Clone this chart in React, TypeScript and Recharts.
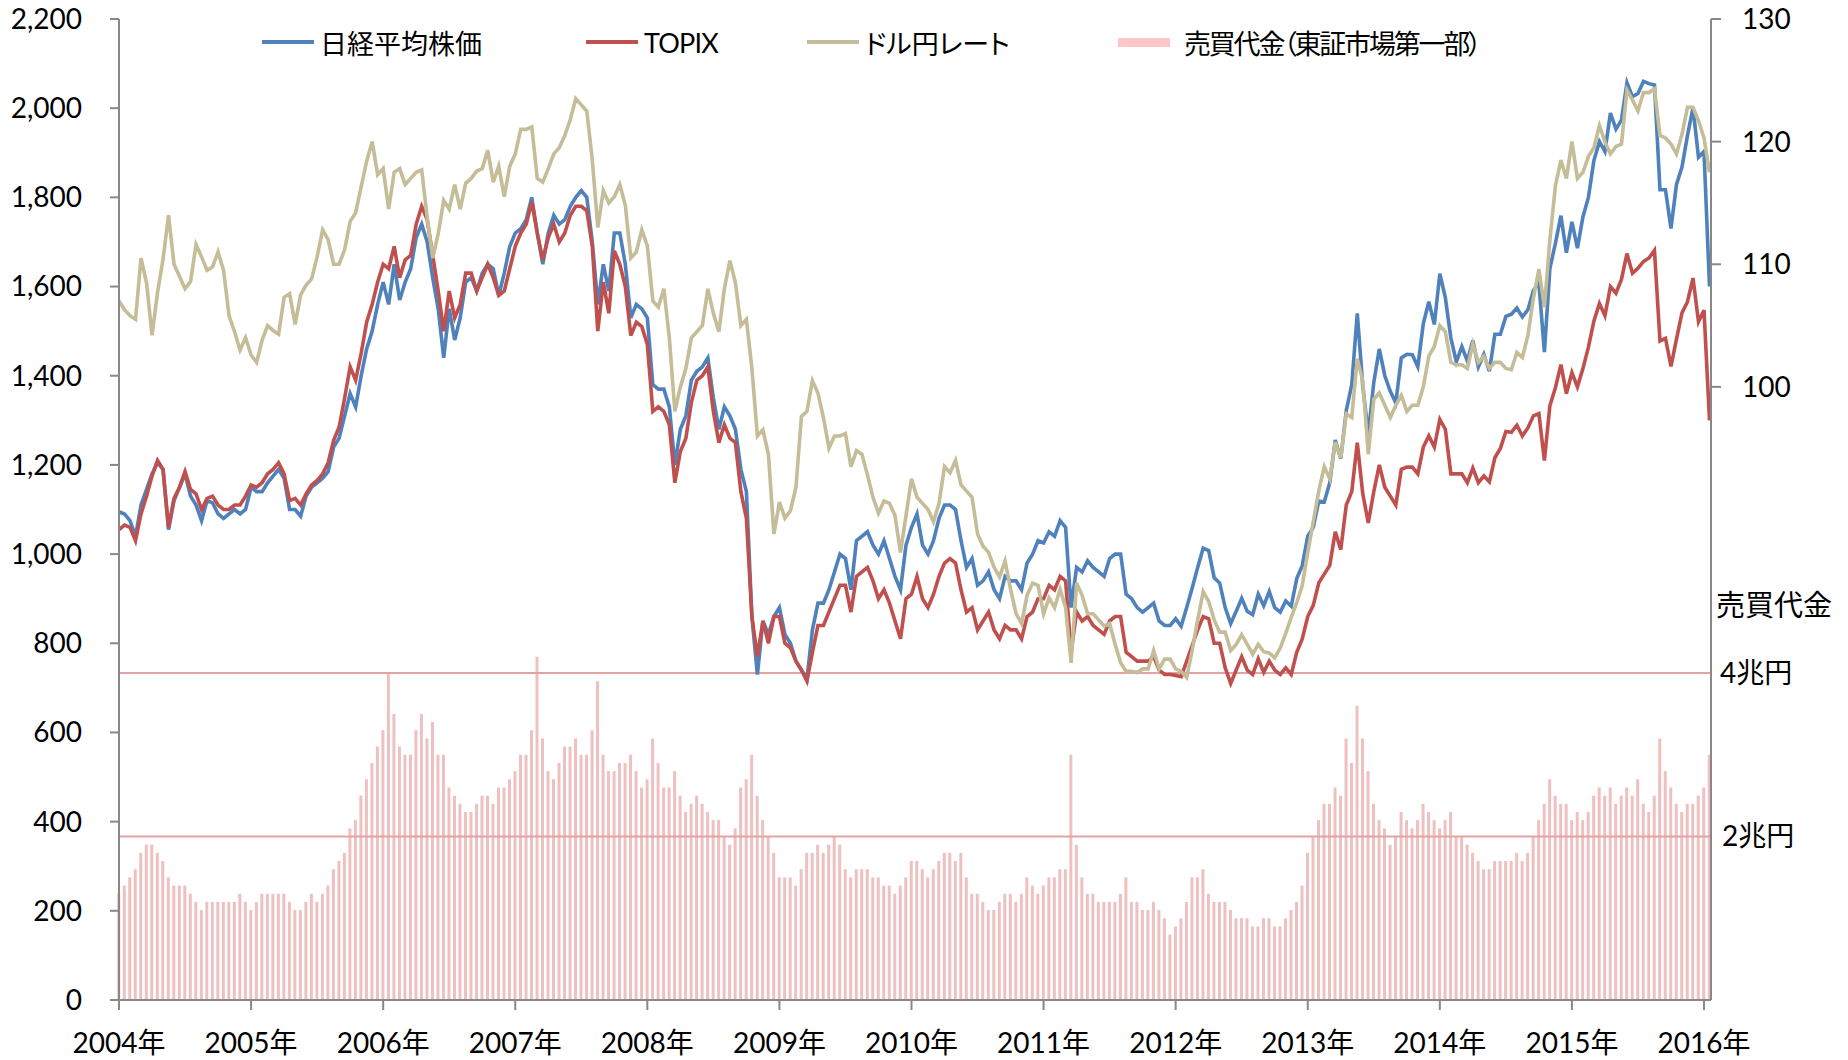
import React from "react";
import { Bar, ComposedChart, Line, ReferenceLine, XAxis, YAxis } from "recharts";

// half-monthly points (1st and 16th), Jan 2004 - Jan 2016
const startYear = 2004;
const yearTicks = [2004, 2005, 2006, 2007, 2008, 2009, 2010, 2011, 2012, 2013, 2014, 2015, 2016];
const indexTicks = [0, 200, 400, 600, 800, 1000, 1200, 1400, 1600, 1800, 2000, 2200];
const fxTicks = [100, 110, 120, 130];

// 日経平均株価 (1/10)
const nikkei = [
  1095, 1090, 1075, 1040, 1110, 1145, 1180, 1205, 1190, 1055, 1120, 1150, 1180, 1130, 1110, 1075, 1120, 1115, 1090, 1080, 1090, 1100, 1090, 1100,
  1150, 1140, 1140, 1160, 1175, 1190, 1170, 1100, 1100, 1085, 1130, 1150, 1160, 1170, 1185, 1240, 1260, 1310, 1360, 1330, 1400, 1460, 1500, 1560,
  1610, 1560, 1650, 1570, 1610, 1640, 1710, 1740, 1700, 1620, 1550, 1440, 1550, 1480, 1530, 1610, 1620, 1590, 1630, 1650, 1640, 1580, 1630, 1690,
  1720, 1730, 1750, 1800, 1720, 1650, 1720, 1760, 1740, 1750, 1780, 1800, 1815, 1800, 1700, 1560, 1650, 1590, 1720, 1720, 1650, 1530, 1560, 1550,
  1530, 1380, 1370, 1370, 1330, 1200, 1280, 1310, 1390, 1410, 1420, 1440, 1350, 1280, 1330, 1310, 1280, 1190, 1140, 860, 730, 850, 820, 860,
  880, 820, 800, 760, 740, 720, 830, 890, 890, 920, 960, 1000, 990, 920, 1030, 1040, 1050, 1020, 1000, 1030, 990, 950, 920, 1020,
  1060, 1090, 1020, 1000, 1030, 1080, 1110, 1110, 1100, 1030, 970, 990, 930, 940, 960, 920, 900, 950, 940, 940, 920, 980, 1000, 1030,
  1025, 1050, 1040, 1075, 1060, 880, 970, 960, 985, 970, 960, 950, 990, 1000, 1000, 910, 900, 880, 870, 880, 890, 850, 840, 840,
  855, 838, 880, 924, 970, 1013, 1008, 947, 935, 880, 844, 872, 901, 872, 864, 910, 884, 916, 880, 870, 895, 883, 945, 974,
  1040, 1060, 1119, 1117, 1160, 1256, 1214, 1322, 1380, 1540, 1377, 1269, 1385, 1460, 1400, 1365, 1339, 1440, 1448, 1447, 1420, 1517, 1566, 1515,
  1629, 1575, 1485, 1431, 1465, 1433, 1479, 1420, 1448, 1410, 1493, 1493, 1533, 1538, 1552, 1532, 1548, 1591, 1608, 1453, 1641, 1697, 1759, 1676,
  1745, 1686, 1756, 1800, 1883, 1925, 1903, 1989, 1953, 1973, 2057, 2026, 2033, 2060, 2055, 2052, 1817, 1817, 1730, 1829, 1868, 1939, 2001, 1890,
  1903, 1600,
];

// TOPIX
const topix = [
  1055, 1065, 1060, 1030, 1090, 1130, 1175, 1210, 1190, 1060, 1125, 1150, 1185, 1145, 1135, 1100, 1125, 1130, 1110, 1100, 1100, 1110, 1110, 1130,
  1155, 1150, 1160, 1180, 1190, 1205, 1180, 1120, 1125, 1110, 1135, 1155, 1165, 1180, 1205, 1255, 1285, 1350, 1420, 1390, 1450, 1520, 1560, 1610,
  1650, 1640, 1690, 1620, 1660, 1670, 1740, 1780, 1750, 1670, 1590, 1500, 1590, 1530, 1560, 1630, 1630, 1590, 1620, 1650, 1620, 1580, 1590, 1640,
  1690, 1720, 1740, 1790, 1720, 1660, 1710, 1740, 1700, 1720, 1760, 1780, 1780, 1770, 1690, 1500, 1610, 1540, 1680, 1650, 1600, 1490, 1520, 1510,
  1470, 1320, 1330, 1320, 1290, 1160, 1230, 1260, 1340, 1390, 1400, 1420, 1320, 1250, 1290, 1260, 1250, 1140, 1080, 860, 770, 850, 800, 860,
  860, 800, 790, 760, 740, 715, 780, 840, 840, 870, 900, 930, 930, 870, 950, 960, 970, 940, 900, 920, 890, 850, 810, 900,
  910, 950, 900, 880, 910, 950, 980, 990, 980, 920, 870, 880, 830, 850, 870, 830, 810, 840, 830, 830, 810, 860, 870, 900,
  900, 930, 920, 950, 940, 780, 870, 850, 860, 840, 830, 820, 850, 860, 860, 780, 770, 760, 760, 760, 770, 740, 730, 730,
  728, 725, 760, 795, 830, 860, 855, 800, 800, 745, 710, 740, 770, 740, 730, 765, 735, 760, 740, 730, 745, 730, 780, 810,
  860, 885, 935, 955, 975, 1050, 1010, 1110, 1140, 1250, 1135, 1070, 1140, 1200, 1150, 1130, 1110, 1190, 1195, 1195, 1180, 1240, 1265, 1240,
  1302, 1280, 1180, 1180, 1180, 1160, 1193, 1160, 1175, 1162, 1216, 1237, 1275, 1273, 1289, 1265, 1283, 1310, 1315, 1210, 1333, 1373, 1425, 1360,
  1407, 1375, 1416, 1464, 1523, 1562, 1535, 1600, 1585, 1616, 1674, 1630, 1641, 1656, 1664, 1681, 1478, 1484, 1421, 1482, 1541, 1566, 1619, 1521,
  1547, 1300,
];

// ドル円レート
const usdjpy = [
  107.0, 106.3, 105.8, 105.5, 110.5, 108.5, 104.2, 107.7, 110.4, 114.0, 110.0, 109.0, 108.0, 108.6, 111.6, 110.6, 109.5, 109.8, 111.0, 109.5, 105.8, 104.5, 103.0, 104.0,
  102.6, 102.0, 103.8, 105.0, 104.6, 104.3, 107.3, 107.6, 105.1, 107.5, 108.3, 108.8, 110.6, 112.8, 112.0, 110.0, 110.0, 111.2, 113.5, 114.2, 116.3, 118.4, 120.0, 117.3,
  117.8, 114.5, 117.5, 117.8, 116.5, 117.0, 117.5, 117.7, 113.8, 110.5, 112.5, 115.2, 114.5, 116.5, 114.5, 116.6, 117.0, 117.6, 117.8, 119.3, 116.7, 118.0, 115.5, 118.0,
  119.0, 121.0, 121.0, 121.2, 117.0, 116.7, 117.8, 119.0, 119.5, 120.5, 121.8, 123.5, 123.0, 122.5, 118.5, 113.0, 116.0, 115.0, 115.5, 116.5, 114.8, 110.5, 111.0, 112.8,
  111.5, 107.0, 106.5, 108.0, 104.0, 98.0, 100.0, 101.5, 104.0, 104.5, 105.0, 108.0, 106.0, 104.5, 108.0, 110.3, 108.5, 105.0, 105.5, 101.5, 96.0, 96.5, 94.5, 88.0,
  90.6, 89.3, 89.9, 91.8, 97.6, 98.0, 100.5, 99.5, 97.5, 95.0, 96.0, 96.0, 96.2, 93.5, 94.8, 94.5, 92.8, 91.0, 89.7, 90.7, 90.5, 89.5, 86.5, 89.5,
  92.5, 91.0, 90.5, 90.0, 89.0, 90.5, 93.5, 93.0, 94.0, 92.0, 91.5, 91.0, 88.0, 87.0, 86.5, 85.3, 84.5, 85.8, 83.5, 81.5, 80.7, 83.0, 84.0, 83.8,
  81.5, 82.8, 82.0, 83.5, 82.0, 77.5, 84.0, 83.0, 81.5, 81.5, 81.0, 80.5, 80.7, 79.0, 77.5, 76.8, 76.8, 76.7, 77.0, 77.0, 78.5, 77.0, 77.8, 77.8,
  77.0, 76.8, 76.3, 78.5, 81.0, 83.3, 82.5, 81.0, 80.0, 80.0, 78.5, 79.0, 79.8, 79.0, 78.2, 79.0, 78.4, 78.3, 77.9, 78.7, 79.9, 81.2, 82.4, 83.8,
  86.5, 89.0, 91.5, 93.5, 92.5, 95.5, 94.2, 97.8, 97.5, 102.3, 100.5, 94.5, 99.0, 99.5, 98.5, 97.5, 98.5, 99.3, 98.0, 98.5, 98.5, 100.0, 102.5, 103.3,
  105.0, 104.5, 102.0, 101.8, 101.8, 101.5, 103.5, 102.0, 102.5, 101.5, 102.0, 102.0, 101.5, 101.4, 102.8, 102.4, 104.2, 107.2, 109.6, 106.5, 112.0, 116.4, 118.5, 117.0,
  120.0, 117.0, 117.5, 118.8, 119.5, 121.3, 120.0, 119.0, 119.6, 119.8, 124.2, 123.4, 122.5, 124.0, 124.0, 124.3, 120.5, 120.3, 119.8, 119.0, 120.6, 122.8, 122.8, 121.7,
  120.3, 117.5,
];

// 売買代金（東証市場第一部）, 兆円
const turnover = [
  1.3, 1.4, 1.5, 1.6, 1.8, 1.9, 1.9, 1.8, 1.7, 1.5, 1.4, 1.4, 1.4, 1.3, 1.2, 1.1, 1.2, 1.2, 1.2, 1.2, 1.2, 1.2, 1.3, 1.2,
  1.1, 1.2, 1.3, 1.3, 1.3, 1.3, 1.3, 1.2, 1.1, 1.1, 1.2, 1.3, 1.2, 1.3, 1.4, 1.6, 1.7, 1.8, 2.1, 2.2, 2.5, 2.7, 2.9, 3.1,
  3.3, 4.0, 3.5, 3.1, 3.0, 3.0, 3.3, 3.5, 3.2, 3.4, 3.0, 3.0, 2.6, 2.5, 2.4, 2.3, 2.3, 2.4, 2.5, 2.5, 2.4, 2.6, 2.6, 2.7,
  2.8, 3.0, 3.0, 3.3, 4.2, 3.2, 2.8, 2.7, 2.9, 3.1, 3.1, 3.2, 3.0, 3.0, 3.3, 3.9, 3.0, 2.8, 2.8, 2.9, 2.9, 3.0, 2.8, 2.6,
  2.7, 3.2, 2.9, 2.6, 2.6, 2.8, 2.5, 2.3, 2.4, 2.5, 2.4, 2.3, 2.2, 2.2, 2.0, 1.9, 2.1, 2.6, 2.7, 3.0, 2.5, 2.2, 2.0, 1.8,
  1.5, 1.5, 1.5, 1.4, 1.6, 1.8, 1.8, 1.9, 1.8, 1.9, 2.0, 1.9, 1.6, 1.5, 1.6, 1.6, 1.6, 1.5, 1.5, 1.4, 1.4, 1.3, 1.4, 1.5,
  1.7, 1.7, 1.6, 1.5, 1.6, 1.7, 1.8, 1.8, 1.7, 1.8, 1.5, 1.3, 1.3, 1.2, 1.1, 1.1, 1.2, 1.3, 1.3, 1.2, 1.3, 1.5, 1.4, 1.3,
  1.4, 1.5, 1.5, 1.6, 1.6, 3.0, 1.9, 1.5, 1.3, 1.3, 1.2, 1.2, 1.2, 1.2, 1.3, 1.5, 1.2, 1.2, 1.1, 1.1, 1.2, 1.1, 1.0, 0.8,
  0.9, 1.0, 1.2, 1.5, 1.5, 1.6, 1.3, 1.2, 1.2, 1.2, 1.1, 1.0, 1.0, 1.0, 0.9, 0.9, 1.0, 1.0, 0.9, 0.9, 1.0, 1.1, 1.2, 1.4,
  1.8, 2.0, 2.2, 2.4, 2.4, 2.6, 2.5, 3.2, 2.9, 3.6, 3.2, 2.8, 2.4, 2.2, 2.1, 1.9, 2.0, 2.3, 2.2, 2.1, 2.2, 2.4, 2.3, 2.2,
  2.1, 2.2, 2.3, 2.0, 2.0, 1.9, 1.8, 1.7, 1.6, 1.6, 1.7, 1.7, 1.7, 1.7, 1.8, 1.7, 1.8, 2.0, 2.2, 2.4, 2.7, 2.5, 2.4, 2.4,
  2.2, 2.3, 2.2, 2.3, 2.5, 2.6, 2.5, 2.6, 2.4, 2.5, 2.6, 2.5, 2.7, 2.4, 2.3, 2.5, 3.2, 2.8, 2.6, 2.4, 2.3, 2.4, 2.4, 2.5,
  2.6, 3.0,
];

const data = nikkei.map((v, i) => ({
  t: startYear + i / 24,
  nikkei: v,
  topix: topix[i],
  usdjpy: usdjpy[i],
  turnover: turnover[i],
}));

const FONT = "Lato, 'Noto Sans CJK JP', sans-serif";
const AXIS = "#888888";

const legendItems = [
  { label: "日経平均株価", color: "#4f81bd", kind: "line", x: 262, spacing: 0 },
  { label: "TOPIX", color: "#c0504d", kind: "line", x: 586, spacing: -0.8 },
  { label: "ドル円レート", color: "#c4bd97", kind: "line", x: 807, spacing: 0 },
  { label: "売買代金（東証市場第一部）", color: "#ffc7c7", kind: "rect", x: 1118, spacing: -2.2 },
];

const ChartLegend = () => (
  <>
    {legendItems.map((it) => (
      <div
        key={it.label}
        style={{
          position: "absolute",
          left: it.x,
          top: 26,
          height: 32,
          display: "flex",
          alignItems: "center",
          fontFamily: FONT,
          fontSize: 27,
          fontFeatureSettings: '"palt"',
          letterSpacing: it.spacing,
          color: "#000",
          whiteSpace: "nowrap",
        }}
      >
        <span
          style={{
            display: "inline-block",
            width: 52,
            height: it.kind === "rect" ? 9 : 4,
            background: it.color,
            marginRight: it.kind === "rect" ? 14 : 6,
          }}
        />
        {it.label}
      </div>
    ))}
  </>
);

export default function App() {
  return (
    <div
      style={{
        position: "absolute",
        left: 0,
        top: 0,
        width: 1848,
        height: 1060,
        background: "#fff",
        overflow: "hidden",
      }}
    >
      <ComposedChart
        width={1848}
        height={1060}
        data={data}
        margin={{ top: 19, right: 0, bottom: 0, left: 0 }}
      >
        <XAxis
          dataKey="t"
          type="number"
          scale="linear"
          domain={[2004, 2016.053]}
          ticks={yearTicks}
          tickFormatter={(v) => `${v}年`}
          interval={0}
          height={60}
          tickSize={10}
          tickMargin={23}
          axisLine={{ stroke: AXIS, strokeWidth: 2 }}
          tickLine={{ stroke: AXIS, strokeWidth: 2 }}
          tick={{ fill: "#000", fontSize: 28, fontFamily: FONT }}
        />
        <YAxis
          yAxisId="idx"
          orientation="left"
          width={119}
          domain={[0, 2200]}
          ticks={indexTicks}
          interval={0}
          tickSize={9}
          tickMargin={28}
          tickFormatter={(v) => v.toLocaleString("en-US")}
          axisLine={{ stroke: AXIS, strokeWidth: 2 }}
          tickLine={{ stroke: AXIS, strokeWidth: 2 }}
          tick={{ fill: "#000", fontSize: 28, fontFamily: FONT }}
        />
        <YAxis
          yAxisId="fx"
          orientation="right"
          width={137}
          domain={[50, 130]}
          ticks={fxTicks}
          interval={0}
          tickSize={10}
          tickMargin={21}
          axisLine={{ stroke: AXIS, strokeWidth: 2 }}
          tickLine={{ stroke: AXIS, strokeWidth: 2 }}
          tick={{ fill: "#000", fontSize: 28, fontFamily: FONT }}
        />
        <YAxis yAxisId="vol" hide domain={[0, 12]} />
        <Bar
          yAxisId="vol"
          dataKey="turnover"
          fill="#efc0c0"
          barSize={3}
          isAnimationActive={false}
        />
        <ReferenceLine
          yAxisId="vol"
          y={4}
          stroke="#e3a3a3"
          strokeWidth={2}
          label={{ value: "4兆円", position: "right", offset: 9, fill: "#000", fontSize: 28, fontFamily: FONT }}
        />
        <ReferenceLine
          yAxisId="vol"
          y={2}
          stroke="#e3a3a3"
          strokeWidth={2}
          label={{ value: "2兆円", position: "right", offset: 11, fill: "#000", fontSize: 28, fontFamily: FONT }}
        />
        <Line
          yAxisId="idx"
          dataKey="nikkei"
          stroke="#4f81bd"
          strokeWidth={3.6}
          dot={false}
          type="linear"
          isAnimationActive={false}
        />
        <Line
          yAxisId="idx"
          dataKey="topix"
          stroke="#c0504d"
          strokeWidth={3.6}
          dot={false}
          type="linear"
          isAnimationActive={false}
        />
        <Line
          yAxisId="fx"
          dataKey="usdjpy"
          stroke="#c4bd97"
          strokeWidth={3.6}
          dot={false}
          type="linear"
          isAnimationActive={false}
        />
      </ComposedChart>
      <ChartLegend />
      <div
        style={{
          position: "absolute",
          left: 1716,
          top: 589,
          fontFamily: FONT,
          fontSize: 29,
          lineHeight: "32px",
          color: "#000",
        }}
      >
        売買代金
      </div>
    </div>
  );
}
